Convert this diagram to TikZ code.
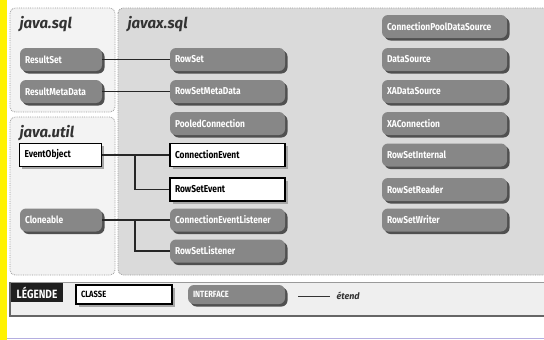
\documentclass[tikz,border=0pt]{standalone}
\usepackage{fontspec}
\setmainfont{Fira Sans}
\newfontfamily\condfont[FakeStretch=0.84]{Fira Sans}
\usetikzlibrary{shadows}
\definecolor{ifacegray}{HTML}{878787}
\definecolor{shadowgray}{HTML}{505050}
\definecolor{paneltop}{HTML}{F3F3F3}
\definecolor{panelx}{HTML}{DADADA}
\definecolor{framegray}{HTML}{9A9A9A}
\definecolor{legendbg}{HTML}{EFEFEF}
\definecolor{stripe}{HTML}{FFF200}
\definecolor{lavender}{HTML}{B4AEE0}

\begin{document}
\begin{tikzpicture}[x=1pt,y=-1pt,
	iface/.style={fill=ifacegray, rounded corners=6pt, text=white,
		font=\condfont\bfseries\fontsize{10}{10}\selectfont,
		minimum height=23pt, inner xsep=5pt, align=left,
		drop shadow={shadow xshift=2.5pt, shadow yshift=-2.5pt, fill=shadowgray, opacity=1}},
	classe/.style={draw=black, line width=1.2pt, fill=white, text=black,
		font=\condfont\bfseries\fontsize{10}{10}\selectfont,
		minimum height=23pt, inner xsep=5pt, align=left,
		drop shadow={shadow xshift=2.5pt, shadow yshift=-2.5pt, fill=gray!70, opacity=1}},
	colleft/.style={text width=72pt},
	colmid/.style={text width=105pt},
	colright/.style={text width=115pt},
	panel/.style={draw=framegray, densely dotted, line width=0.8pt, rounded corners=5pt},
	title/.style={anchor=west, font=\bfseries\itshape\fontsize{15}{15}\selectfont, text=black!80},
	link/.style={draw=black!85, line width=1.5pt}]
	\useasboundingbox (0,0) rectangle (544,340);
	\fill[white] (0,0) rectangle (544,340);
	\fill[stripe] (0,0) rectangle (7,340);
	\draw[lavender, line width=1.2pt] (7,338.5) -- (544,338.5);

	% paquets
	\filldraw[panel, fill=paneltop] (10,8) rectangle (115,112);
	\filldraw[panel, fill=paneltop] (10,117) rectangle (115,275);
	\filldraw[panel, fill=panelx] (118,8) rectangle (560,275);
	\node[title] (tsql) at (16,24) {java.sql};
	\node[title] (tutil) at (16,133) {java.util};
	\node[title] (tx) at (124,24) {javax.sql};

	% java.sql
	\node[iface, colleft] (ResultSet) at (61,59.5) {ResultSet};
	\node[iface, colleft] (ResultMetaData) at (61,91.5) {ResultMetaData};
	% java.util
	\node[classe, colleft] (EventObject) at (60.5,155) {EventObject};
	\node[iface, colleft] (Cloneable) at (61,220) {Cloneable};

	% javax.sql
	\node[iface, colmid] (RowSet) at (227.5,59.5) {RowSet};
	\node[iface, colmid] (RowSetMetaData) at (227.5,91.5) {RowSetMetaData};
	\node[iface, colmid] (PooledConnection) at (227.5,123.5) {PooledConnection};
	\node[classe, colmid] (ConnectionEvent) at (227.5,155) {ConnectionEvent};
	\node[classe, colmid] (RowSetEvent) at (227.5,189.5) {RowSetEvent};
	\node[iface, colmid] (ConnectionEventListener) at (227.5,220) {ConnectionEventListener};
	\node[iface, colmid] (RowSetListener) at (227.5,251) {RowSetListener};

	\node[iface, colright] (ConnectionPoolDataSource) at (444.5,26.5) {ConnectionPoolDataSource};
	\node[iface, colright] (DataSource) at (444.5,59.5) {DataSource};
	\node[iface, colright] (XADataSource) at (444.5,91.5) {XADataSource};
	\node[iface, colright] (XAConnection) at (444.5,123.5) {XAConnection};
	\node[iface, colright] (RowSetInternal) at (444.5,155) {RowSetInternal};
	\node[iface, colright] (RowSetReader) at (444.5,189.5) {RowSetReader};
	\node[iface, colright] (RowSetWriter) at (444.5,220) {RowSetWriter};

	% liens
	\draw[link] (ResultSet.east) -- (RowSet.west);
	\draw[link] (ResultMetaData.east) -- (RowSetMetaData.west);
	\draw[link] (EventObject.east) -- (ConnectionEvent.west);
	\coordinate (forkA) at (135,155);
	\draw[link] (forkA) |- (RowSetEvent.west);
	\draw[link] (Cloneable.east) -- (ConnectionEventListener.west);
	\coordinate (forkB) at (135,220);
	\draw[link] (forkB) |- (RowSetListener.west);

	% legende
	\fill[legendbg] (10,282) rectangle (560,316);
	\draw[framegray, line width=1pt] (10,282) -- (560,282);
	\draw[black!60, line width=1.2pt] (10,282) -- (10,316) -- (560,316);
	\node[fill=black!88, text=white, font=\condfont\bfseries\fontsize{12}{12}\selectfont,
		minimum width=52pt, minimum height=19pt, inner sep=0pt] (lg) at (37,292.5) {LÉGENDE};
	\node[classe, text width=86pt, minimum height=19pt, font=\condfont\bfseries\fontsize{9}{9}\selectfont] (lgc) at (124,294.5) {CLASSE};
	\node[iface, text width=87pt, minimum height=19pt, font=\condfont\bfseries\fontsize{9}{9}\selectfont] (lgi) at (236.5,294.5) {INTERFACE};
	\coordinate (ext1) at (298,296);
	\coordinate (ext2) at (330,296);
	\draw[black!80, line width=1pt] (ext1) -- (ext2);
	\node[anchor=west, font=\bfseries\itshape\fontsize{9}{9}\selectfont, text=black!80] (lgx) at (333,296) {étend};
\end{tikzpicture}
\end{document}
